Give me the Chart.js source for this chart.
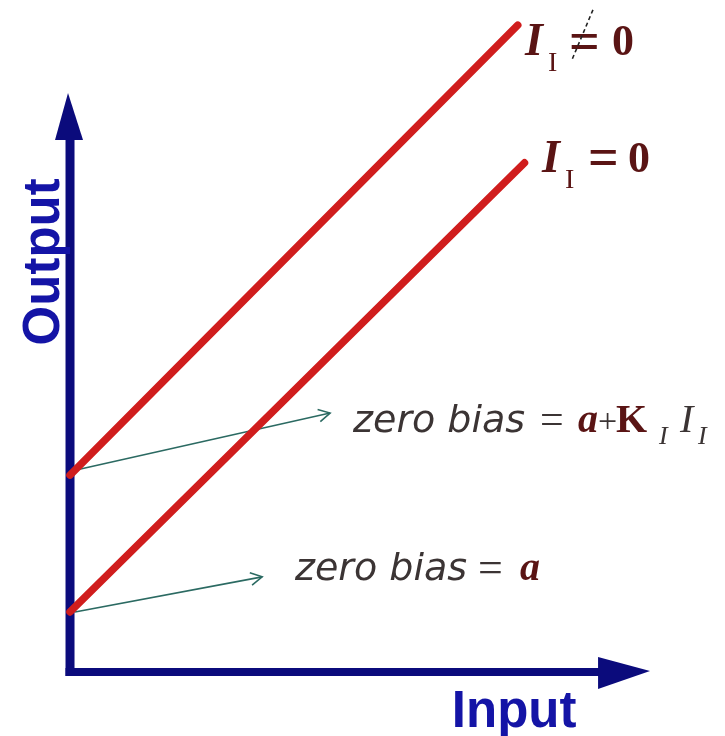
<!DOCTYPE html>
<html><head><meta charset="utf-8">
<script src="https://cdn.jsdelivr.net/npm/chart.js@4.4.1/dist/chart.umd.min.js"></script>
<style>html,body{margin:0;padding:0;background:#fff;}canvas{display:block;}</style>
</head><body>
<canvas id="c" width="725" height="736"></canvas>
<script>
// ---- data (abstract Input / Output units) ----
const inputRange = [-1.556, 14.556];
const outputRange = [-1.467, 14.889];
const lineNonZeroX = [0, 9.95];      // I_I != 0
const lineNonZeroY = [4.33, 14.33];
const lineZeroX = [0, 10.1];         // I_I = 0
const lineZeroY = [1.29, 11.27];
const biasArrowUpperX = [0.11, 5.78];
const biasArrowUpperY = [4.44, 5.71];
const biasArrowLowerX = [0.11, 4.27];
const biasArrowLowerY = [1.29, 2.07];
const axisTip = [12.89, 12.82];      // x tip, y tip
const labelNames = ['Input', 'Output'];

const pts = (xs, ys) => xs.map((v, i) => ({x: v, y: ys[i]}));

const NAVY = '#0b0b7c', BLUE = '#1414a6', RED = '#d01d1d', TEAL = '#2b6a62';
const DARKRED = '#5a1414', GREY = '#3b3434';

function drawParts(ctx, px, py, parts) {
  for (const p of parts) {
    ctx.font = p.f; ctx.fillStyle = p.c;
    ctx.fillText(p.t, px + p.dx, py + (p.dy || 0));
  }
}

const diagramPlugin = {
  id: 'diagram',
  beforeDatasetsDraw(chart) {
    const {ctx, scales: {x, y}} = chart;
    const X = v => x.getPixelForValue(v), Y = v => y.getPixelForValue(v);
    ctx.save();
    ctx.strokeStyle = NAVY; ctx.fillStyle = NAVY; ctx.lineWidth = 9;
    const ox = X(0), oy = Y(0);
    // y axis
    ctx.beginPath(); ctx.moveTo(ox, oy + 6); ctx.lineTo(ox, Y(axisTip[1]) + 40); ctx.stroke();
    ctx.beginPath();
    ctx.moveTo(ox - 2, Y(axisTip[1]));
    ctx.lineTo(ox + 13, Y(axisTip[1]) + 47);
    ctx.lineTo(ox - 15, Y(axisTip[1]) + 47);
    ctx.closePath(); ctx.fill();
    // x axis
    ctx.lineWidth = 8;
    ctx.beginPath(); ctx.moveTo(ox - 4.5, oy + 2); ctx.lineTo(X(axisTip[0]) - 45, oy + 2); ctx.stroke();
    ctx.beginPath();
    ctx.moveTo(X(axisTip[0]), oy + 1);
    ctx.lineTo(X(axisTip[0]) - 52, oy - 13);
    ctx.lineTo(X(axisTip[0]) - 52, oy + 19);
    ctx.closePath(); ctx.fill();
    ctx.restore();
  },
  afterDatasetsDraw(chart) {
    const {ctx, scales: {x, y}} = chart;
    const X = v => x.getPixelForValue(v), Y = v => y.getPixelForValue(v);
    ctx.save();
    // open arrowheads on bias arrows
    ctx.strokeStyle = TEAL; ctx.lineWidth = 1.6;
    [[biasArrowUpperX, biasArrowUpperY], [biasArrowLowerX, biasArrowLowerY]].forEach(([xs, ys]) => {
      const x0 = X(xs[0]), y0 = Y(ys[0]), x1 = X(xs[1]), y1 = Y(ys[1]);
      const a = Math.atan2(y1 - y0, x1 - x0), L = 13, s = 0.5;
      ctx.beginPath();
      ctx.moveTo(x1 - L * Math.cos(a - s), y1 - L * Math.sin(a - s));
      ctx.lineTo(x1, y1);
      ctx.lineTo(x1 - L * Math.cos(a + s), y1 - L * Math.sin(a + s));
      ctx.stroke();
    });

    ctx.textBaseline = 'alphabetic'; ctx.textAlign = 'left';
    const sans = '"DejaVu Sans"', serif = '"Liberation Serif"';
    // zero bias = a + K_I I_I
    drawParts(ctx, X(6.29), Y(5.29), [
      {t: 'zero bias', f: `italic 38px ${sans}`, c: GREY, dx: 0},
      {t: '=', f: `42px ${serif}`, c: GREY, dx: 187, dy: 1},
      {t: 'a', f: `italic bold 40px ${serif}`, c: DARKRED, dx: 225},
      {t: '+', f: `34px ${serif}`, c: GREY, dx: 245},
      {t: 'K', f: `bold 40px ${serif}`, c: DARKRED, dx: 263},
      {t: 'I', f: `italic 26px ${serif}`, c: GREY, dx: 306, dy: 12},
      {t: 'I', f: `italic 40px ${serif}`, c: GREY, dx: 327},
      {t: 'I', f: `italic 26px ${serif}`, c: GREY, dx: 345, dy: 12}
    ]);
    // zero bias = a
    drawParts(ctx, X(5.0), Y(2.0), [
      {t: 'zero bias', f: `italic 38px ${sans}`, c: GREY, dx: 0},
      {t: '=', f: `44px ${serif}`, c: GREY, dx: 183, dy: 2},
      {t: 'a', f: `italic bold 40px ${serif}`, c: DARKRED, dx: 225}
    ]);
    // I_I != 0
    const ax = X(10.11), ay = Y(13.67);
    drawParts(ctx, ax, ay, [
      {t: 'I', f: `italic bold 46px ${serif}`, c: DARKRED, dx: 0},
      {t: 'I', f: `28px ${serif}`, c: DARKRED, dx: 23, dy: 16},
      {t: '=', f: `bold 54px ${serif}`, c: DARKRED, dx: 44, dy: 4},
      {t: '0', f: `bold 44px ${serif}`, c: DARKRED, dx: 87}
    ]);
    ctx.strokeStyle = '#222'; ctx.lineWidth = 1.6; ctx.setLineDash([4, 3]);
    ctx.beginPath(); ctx.moveTo(ax + 68, ay - 45); ctx.lineTo(ax + 47, ay + 5); ctx.stroke();
    ctx.setLineDash([]);
    // I_I = 0
    drawParts(ctx, X(10.49), Y(11.07), [
      {t: 'I', f: `italic bold 46px ${serif}`, c: DARKRED, dx: 0},
      {t: 'I', f: `28px ${serif}`, c: DARKRED, dx: 23, dy: 16},
      {t: '=', f: `bold 54px ${serif}`, c: DARKRED, dx: 46, dy: 3},
      {t: '0', f: `bold 44px ${serif}`, c: DARKRED, dx: 86}
    ]);
    // axis titles
    ctx.fillStyle = BLUE; ctx.font = 'bold 51px "Liberation Sans"';
    ctx.textAlign = 'center';
    ctx.fillText(labelNames[0], X(9.87), Y(-1.27));
    ctx.save();
    ctx.translate(X(-0.6), Y(9.07));
    ctx.rotate(-Math.PI / 2);
    ctx.textBaseline = 'middle';
    ctx.fillText(labelNames[1], 0, 2);
    ctx.restore();
    ctx.restore();
  }
};

new Chart(document.getElementById('c'), {
  type: 'scatter',
  data: {
    datasets: [
      {data: pts(lineNonZeroX, lineNonZeroY), showLine: true, borderColor: RED, borderWidth: 7.5, pointRadius: 0, borderCapStyle: 'round'},
      {data: pts(lineZeroX, lineZeroY), showLine: true, borderColor: RED, borderWidth: 7.5, pointRadius: 0, borderCapStyle: 'round'},
      {data: pts(biasArrowUpperX, biasArrowUpperY), showLine: true, borderColor: TEAL, borderWidth: 1.6, pointRadius: 0},
      {data: pts(biasArrowLowerX, biasArrowLowerY), showLine: true, borderColor: TEAL, borderWidth: 1.6, pointRadius: 0}
    ]
  },
  options: {
    responsive: false, animation: false, devicePixelRatio: 1,
    layout: {padding: 0},
    scales: {
      x: {type: 'linear', display: false, min: inputRange[0], max: inputRange[1]},
      y: {type: 'linear', display: false, min: outputRange[0], max: outputRange[1]}
    },
    plugins: {legend: {display: false}, tooltip: {enabled: false}}
  },
  plugins: [diagramPlugin]
});
</script>
</body></html>
